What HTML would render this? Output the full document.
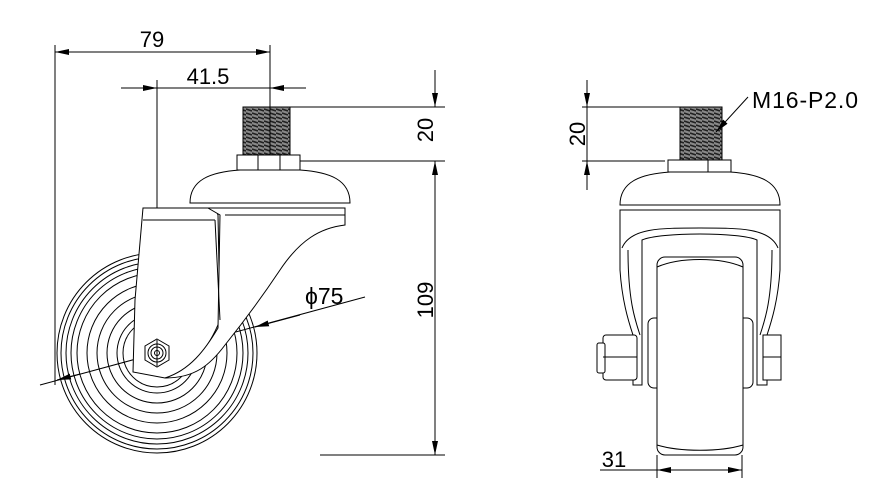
<!DOCTYPE html>
<html><head><style>html,body{margin:0;padding:0;background:#fff}svg{display:block}text{font-family:"Liberation Sans",sans-serif;fill:#000}</style></head><body>
<svg width="877" height="495" viewBox="0 0 877 495" xmlns="http://www.w3.org/2000/svg">
<defs>
<marker id="a" markerWidth="14" markerHeight="6" refX="14" refY="3" orient="auto" markerUnits="userSpaceOnUse"><path d="M0,0 L14,3 L0,6 z" fill="#000"/></marker>
<pattern id="th" width="6" height="4" patternUnits="userSpaceOnUse"><rect width="6" height="4" fill="#888"/><line x1="0" y1="1" x2="6" y2="3" stroke="#222" stroke-width="1.6"/></pattern>
</defs>
<g stroke="#000" stroke-width="1" fill="none">
<line x1="55" y1="45" x2="55" y2="385"/>
<line x1="270" y1="45" x2="270" y2="110"/>
<line x1="270" y1="155" x2="270" y2="180"/><line x1="270" y1="185" x2="270" y2="195"/>
<line x1="70" y1="52" x2="270" y2="52" marker-end="url(#a)"/>
<line x1="255" y1="52" x2="55" y2="52" marker-end="url(#a)"/>
<line x1="121" y1="88" x2="157" y2="88" marker-end="url(#a)"/>
<line x1="157" y1="88" x2="270" y2="88"/>
<line x1="306" y1="88" x2="270" y2="88" marker-end="url(#a)"/>
<line x1="157" y1="80" x2="157" y2="353"/>
<line x1="290" y1="107" x2="445" y2="107"/>
<line x1="300" y1="161" x2="445" y2="161"/>
<line x1="320" y1="455" x2="445" y2="455"/>
<line x1="435" y1="70" x2="435" y2="107" marker-end="url(#a)"/>
<line x1="435" y1="161" x2="435" y2="455"/>
<line x1="435" y1="200" x2="435" y2="161" marker-end="url(#a)"/>
<line x1="435" y1="400" x2="435" y2="455" marker-end="url(#a)"/>
<line x1="365" y1="297" x2="40" y2="385"/>
<line x1="300" y1="315" x2="255" y2="327" marker-end="url(#a)"/>
<line x1="80" y1="374" x2="57" y2="380" marker-end="url(#a)"/>
<circle cx="157" cy="353" r="100"/><circle cx="157" cy="353" r="96"/><circle cx="157" cy="353" r="91"/><circle cx="157" cy="353" r="86"/><circle cx="157" cy="353" r="80"/><circle cx="157" cy="353" r="70"/><circle cx="157" cy="353" r="60"/><circle cx="157" cy="353" r="50"/><circle cx="157" cy="353" r="40"/><circle cx="157" cy="353" r="34"/>
</g>
<g stroke="#000" stroke-width="1" fill="#fff">
<path d="M143,208 L215,208 L218,215 L220,320 C210,345 190,375 165,378 L133,372 L135,300 Z"/>
<path d="M208,208 L345,208 L345,225 C320,228 300,240 280,270 C260,300 245,320 225,345 C210,365 195,378 165,378 C190,370 205,350 218,328 L220,215 Z"/>
<line x1="215" y1="220" x2="220" y2="320"/>
<line x1="143" y1="220" x2="215" y2="220"/>
<line x1="225" y1="215" x2="345" y2="215"/>
<path d="M190,203 C190,180 210,172 240,170 L300,170 C330,172 350,180 350,203 Z"/>
<rect x="237" y="155" width="63" height="15"/>
<line x1="258" y1="155" x2="258" y2="170"/><line x1="280" y1="155" x2="280" y2="170"/>
<rect x="243" y="107" width="47" height="48" fill="url(#th)"/>
<polygon points="157,339 169,346 169,360 157,367 145,360 145,346"/>
<circle cx="157" cy="353" r="9"/><circle cx="157" cy="353" r="6"/><circle cx="157" cy="353" r="2.5"/>
</g>
<line x1="270" y1="107" x2="270" y2="155" stroke="#000"/>
<line x1="157" y1="340" x2="157" y2="366" stroke="#000"/>
<!-- RIGHT view -->
<g stroke="#000" stroke-width="1" fill="#fff">
<path d="M620,210 L780,210 L780,270 C778,300 772,320 767,335 L767,385 L757,385 L757,240 C740,232 660,232 642,240 L642,385 L633,385 L633,335 C628,320 622,300 620,270 Z"/>
<path d="M622,248 C630,228 660,228 700,228 C740,228 770,228 778,248" fill="none"/>
<path d="M628,250 C628,300 635,320 640,335" fill="none"/>
<path d="M772,250 C772,300 765,320 760,335" fill="none"/>
<rect x="648" y="318" width="105" height="70" rx="6"/>
<rect x="657" y="257" width="86" height="198" rx="8"/>
<path d="M657,267 C680,257 720,257 743,267" fill="none"/>
<path d="M657,445 C680,452 720,452 743,445" fill="none"/>
<rect x="603" y="335" width="34" height="45" rx="3"/>
<rect x="597" y="343" width="8" height="30" rx="2"/>
<line x1="603" y1="357" x2="637" y2="357"/>
<rect x="763" y="335" width="18" height="45"/>
<line x1="763" y1="357" x2="781" y2="357"/>
<path d="M620,205 C620,182 640,174 670,172 L730,172 C760,174 780,182 780,205 Z"/>
<line x1="622" y1="210" x2="778" y2="210"/>
<rect x="668" y="160" width="63" height="12"/>
<line x1="708" y1="160" x2="708" y2="172"/>
<rect x="680" y="107" width="42" height="53" fill="url(#th)"/>
</g>
<g stroke="#000" stroke-width="1" fill="none">
<line x1="582" y1="107" x2="680" y2="107"/>
<line x1="582" y1="161" x2="665" y2="161"/>
<line x1="587" y1="80" x2="587" y2="107" marker-end="url(#a)"/>
<line x1="587" y1="107" x2="587" y2="161"/>
<line x1="587" y1="190" x2="587" y2="161" marker-end="url(#a)"/>
<line x1="748" y1="97" x2="716" y2="132" marker-end="url(#a)"/>
<line x1="600" y1="470" x2="657" y2="470"/>
<line x1="657" y1="455" x2="657" y2="478"/><line x1="742" y1="455" x2="742" y2="478"/>
<line x1="700" y1="470" x2="657" y2="470" marker-end="url(#a)"/>
<line x1="700" y1="470" x2="742" y2="470" marker-end="url(#a)"/>
</g>
<g font-size="22">
<text x="152" y="47" text-anchor="middle">79</text>
<text x="208" y="84" text-anchor="middle">41.5</text>
<text x="305" y="304" font-size="23">ϕ75</text>
<text transform="translate(433,130) rotate(-90)" text-anchor="middle">20</text>
<text transform="translate(433,300) rotate(-90)" text-anchor="middle">109</text>
<text transform="translate(585,134) rotate(-90)" text-anchor="middle">20</text>
<text x="752" y="108" font-size="23" textLength="106">M16-P2.0</text>
<text x="614" y="467" text-anchor="middle">31</text>
</g>
</svg>
</body></html>
